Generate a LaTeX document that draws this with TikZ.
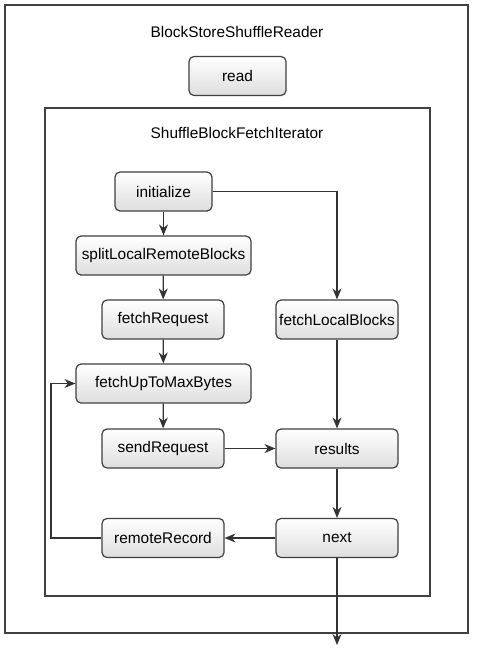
\documentclass[tikz,border=0pt]{standalone}
\usepackage{fontspec}
\setmainfont{Liberation Sans}
\usetikzlibrary{arrows.meta}
\begin{document}
\begin{tikzpicture}[x=1pt,y=-1pt,
  font=\fontsize{15.4}{18}\selectfont,
  frame/.style={draw=black!75, line width=1.3pt},
  box/.style={draw=black!75, line width=1.2pt, rounded corners=5pt,
    top color=white, bottom color=black!13, minimum height=39pt, inner sep=0pt},
  flow/.style={draw=black!80, line width=1.2pt, -{Stealth[length=11pt,width=9pt]}}]
  %% canvas
  \useasboundingbox (0,0) rectangle (477,658);
  \fill[white] (0,0) rectangle (477,658);

  %% frames
  \draw[frame] (5,5) rectangle (468,633);
  \draw[frame] (45,108) rectangle (430,596);
  \node (readerTitle) at (237,32) {BlockStoreShuffleReader};
  \node (iterTitle) at (237,133) {ShuffleBlockFetchIterator};

  %% boxes
  \node[box, minimum width=97pt] (read) at (237.5,76) {read};
  \node[box, minimum width=97pt] (init) at (163.5,191.5) {initialize};
  \node[box, minimum width=175pt] (split) at (163.5,255.5) {splitLocalRemoteBlocks};
  \node[box, minimum width=122pt] (fetchReq) at (163,319.5) {fetchRequest};
  \node[box, minimum width=122pt] (fetchLocal) at (337,319.5) {fetchLocalBlocks};
  \node[box, minimum width=175pt] (fetchMax) at (163.5,383.5) {fetchUpToMaxBytes};
  \node[box, minimum width=122pt] (sendReq) at (163,448.5) {sendRequest};
  \node[box, minimum width=122pt] (results) at (337,448.5) {results};
  \node[box, minimum width=122pt] (remote) at (163,538) {remoteRecord};
  \node[box, minimum width=122pt] (next) at (337,538) {next};
  \coordinate (loopx) at (51,0);
  \coordinate (out) at (337,645);

  %% arrows
  \draw[flow] (init) -- (split);
  \draw[flow] (split) -- (fetchReq);
  \draw[flow] (fetchReq) -- (fetchMax);
  \draw[flow] (fetchMax) -- (sendReq);
  \draw[flow] (init.east) -| (fetchLocal.north);
  \draw[flow] (fetchLocal) -- (results);
  \draw[flow] (sendReq) -- (results);
  \draw[flow] (results) -- (next);
  \draw[flow] (next) -- (remote);
  \draw[flow] (remote.west) -- (remote.west -| loopx) |- (fetchMax.west);
  \draw[flow] (next) -- (out);
\end{tikzpicture}
\end{document}
